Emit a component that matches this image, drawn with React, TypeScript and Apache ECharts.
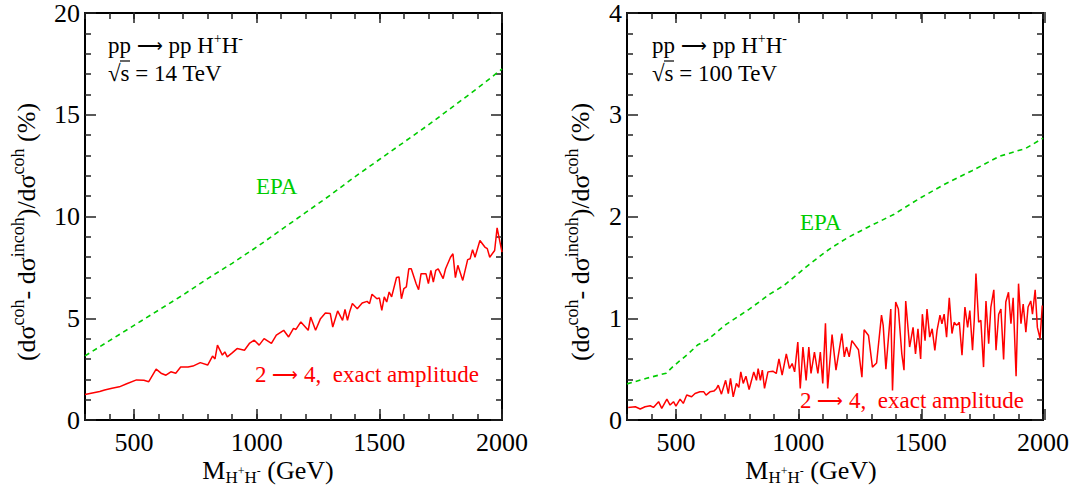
import React, { useEffect, useRef } from "react";
import * as echarts from "echarts";

const FONT = "Liberation Serif";
const GREEN = "#00cc00";
const RED = "#ff0000";

// ---------- data ----------
const xMajorTicks = [500, 1000, 1500, 2000];

// sqrt(s) = 14 TeV panel
const epa14X = [300, 400, 500, 600, 700, 800, 900, 1000, 1100, 1200, 1300, 1400, 1500, 1600, 1700, 1800, 1900, 2000];
const epa14Y = [3.15, 3.9, 4.65, 5.4, 6.15, 6.95, 7.7, 8.5, 9.35, 10.2, 11.05, 11.95, 12.8, 13.65, 14.5, 15.4, 16.3, 17.25];

const exact14X = [300, 330, 360, 380, 410, 440, 470, 510, 540, 560, 590, 610, 630, 650, 670, 690, 720, 740, 770, 800, 820, 830, 840, 860, 870, 880, 900, 920, 950, 970, 990, 1010, 1030, 1060, 1080, 1110, 1130, 1150, 1160, 1180, 1210, 1220, 1240, 1260, 1280, 1300, 1310, 1330, 1350, 1360, 1370, 1380, 1390, 1410, 1430, 1450, 1460, 1470, 1490, 1500, 1510, 1520, 1530, 1540, 1550, 1570, 1580, 1590, 1600, 1610, 1620, 1630, 1650, 1660, 1670, 1690, 1700, 1710, 1720, 1730, 1740, 1760, 1770, 1790, 1800, 1810, 1820, 1840, 1860, 1870, 1880, 1890, 1910, 1930, 1940, 1950, 1970, 1980, 2000];
const exact14Y = [1.25, 1.33, 1.4, 1.47, 1.56, 1.63, 1.78, 1.97, 1.95, 1.88, 2.5, 2.3, 2.2, 2.37, 2.3, 2.6, 2.6, 2.65, 2.82, 2.7, 3.14, 3.0, 3.68, 3.19, 3.35, 3.1, 3.3, 3.51, 3.43, 3.76, 3.92, 3.68, 4.0, 3.76, 4.17, 4.41, 4.08, 4.5, 4.45, 4.82, 4.41, 5.06, 4.41, 4.98, 5.26, 5.23, 4.57, 5.36, 4.9, 5.43, 4.9, 5.36, 5.72, 5.47, 5.75, 5.83, 5.72, 6.18, 5.96, 6.0, 5.39, 6.05, 5.8, 6.29, 6.05, 7.0, 7.03, 5.96, 6.46, 6.54, 7.43, 7.43, 6.7, 6.4, 7.19, 7.19, 6.7, 7.35, 6.78, 7.35, 7.43, 6.95, 7.43, 8.0, 8.17, 7.0, 7.6, 6.86, 7.88, 7.92, 8.37, 8.0, 8.82, 8.5, 8.42, 8.0, 8.33, 9.44, 8.25];

// sqrt(s) = 100 TeV panel
const epa100X = [300, 380, 460, 490, 515, 550, 590, 625, 660, 705, 750, 800, 840, 885, 940, 1030, 1110, 1140, 1200, 1280, 1390, 1490, 1600, 1710, 1820, 1930, 2000];
const epa100Y = [0.355, 0.41, 0.46, 0.53, 0.58, 0.65, 0.74, 0.78, 0.85, 0.94, 1.01, 1.09, 1.16, 1.24, 1.32, 1.5, 1.65, 1.7, 1.79, 1.89, 2.02, 2.17, 2.32, 2.45, 2.59, 2.67, 2.77];

const exact100X = [305, 334, 354, 374, 395, 408, 429, 442, 463, 476, 490, 500, 517, 530, 544, 564, 578, 598, 614, 623, 639, 655, 666, 673, 686, 703, 714, 723, 734, 747, 757, 765, 775, 786, 799, 809, 818, 829, 836, 845, 853, 862, 876, 896, 910, 921, 934, 951, 964, 975, 985, 998, 1008, 1019, 1032, 1043, 1052, 1066, 1080, 1090, 1100, 1111, 1120, 1138, 1154, 1178, 1188, 1197, 1208, 1219, 1246, 1260, 1269, 1287, 1303, 1320, 1340, 1347, 1358, 1378, 1385, 1398, 1409, 1423, 1432, 1439, 1455, 1469, 1479, 1489, 1500, 1507, 1518, 1526, 1537, 1547, 1558, 1567, 1579, 1587, 1596, 1606, 1617, 1628, 1637, 1647, 1658, 1669, 1681, 1692, 1701, 1712, 1719, 1726, 1737, 1746, 1757, 1767, 1778, 1787, 1799, 1808, 1819, 1828, 1839, 1848, 1859, 1869, 1878, 1890, 1900, 1910, 1919, 1930, 1939, 1950, 1957, 1968, 1977, 1988, 1997];
const exact100Y = [0.124, 0.13, 0.108, 0.13, 0.14, 0.124, 0.18, 0.114, 0.205, 0.147, 0.18, 0.137, 0.205, 0.163, 0.245, 0.228, 0.26, 0.277, 0.277, 0.245, 0.277, 0.284, 0.31, 0.342, 0.254, 0.39, 0.26, 0.41, 0.228, 0.36, 0.32, 0.473, 0.36, 0.43, 0.3, 0.39, 0.473, 0.39, 0.506, 0.39, 0.49, 0.31, 0.473, 0.48, 0.457, 0.6, 0.44, 0.65, 0.506, 0.555, 0.473, 0.766, 0.31, 0.717, 0.39, 0.717, 0.457, 0.668, 0.457, 0.668, 0.36, 0.95, 0.31, 0.84, 0.49, 0.85, 0.62, 0.717, 0.62, 0.78, 0.69, 0.42, 0.887, 0.83, 0.52, 0.56, 1.03, 0.93, 0.5, 1.09, 0.29, 1.16, 1.09, 0.65, 0.49, 1.17, 0.717, 0.91, 0.65, 0.897, 0.6, 1.04, 0.78, 1.09, 0.815, 0.897, 0.685, 0.88, 1.03, 0.946, 1.04, 0.815, 1.2, 0.85, 0.96, 0.93, 0.96, 0.636, 1.11, 0.91, 1.076, 0.685, 0.98, 1.44, 0.96, 0.98, 0.52, 1.17, 0.75, 1.11, 1.28, 0.685, 1.04, 1.09, 0.594, 1.16, 1.255, 0.946, 1.2, 0.43, 1.34, 0.946, 1.14, 0.864, 1.11, 1.17, 1.04, 1.28, 0.91, 0.8, 1.125];

const zip = (xs: number[], ys: number[]) => xs.map((x, i) => [x, ys[i]]);

// ---------- layout ----------
const GRID_L = { left: 85, top: 12, width: 417, height: 408 };
const GRID_R = { left: 627, top: 12, width: 418, height: 408 };

const tickStyle = { color: "#222", width: 1.5 };
const frameLine = { show: true, onZero: false, lineStyle: { color: "#000", width: 2 } };
const labelStyle = { fontFamily: FONT, fontSize: 26, color: "#000", formatter: (v: number) => String(v) };

function xAxisPair(gridIndex: number) {
  const base = {
    type: "value" as const,
    gridIndex,
    min: 300,
    max: 2000,
    interval: 100,
    axisLine: frameLine,
    axisTick: { show: true, inside: true, length: 6, lineStyle: tickStyle },
    splitLine: { show: false },
  };
  return [
    { ...base, position: "bottom", axisLabel: { ...labelStyle, margin: 9, customValues: xMajorTicks } },
    { ...base, position: "top", axisLabel: { show: false } },
  ];
}
function xMajorPair(gridIndex: number) {
  const base = {
    type: "value" as const,
    gridIndex,
    min: 300,
    max: 2000,
    axisLine: { show: false },
    axisTick: { show: true, inside: true, length: 11, customValues: xMajorTicks, lineStyle: tickStyle },
    axisLabel: { show: false },
    splitLine: { show: false },
  };
  return [
    { ...base, position: "bottom" },
    { ...base, position: "top" },
  ];
}
function yAxisPair(gridIndex: number, max: number, interval: number) {
  const base = {
    type: "value" as const,
    gridIndex,
    min: 0,
    max,
    interval,
    axisLine: frameLine,
    axisTick: { show: true, inside: true, length: 11, lineStyle: tickStyle },
    minorTick: { show: true, splitNumber: 5, length: 6, lineStyle: tickStyle },
    splitLine: { show: false },
  };
  return [
    { ...base, position: "left", axisLabel: { ...labelStyle, margin: 5 } },
    { ...base, position: "right", axisLabel: { show: false } },
  ];
}

const richBase = (color: string) => ({
  t: { fontFamily: FONT, fontSize: 23, fill: color, verticalAlign: "middle" },
  a: { fontFamily: FONT, fontSize: 18, fill: color, verticalAlign: "middle", padding: [2, 0, 0, 0] },
  sup: { fontFamily: FONT, fontSize: 14, fill: color, verticalAlign: "middle", padding: [0, 0, 14, 0] },
});

const yTitleRich = {
  n: { fontFamily: FONT, fontSize: 26, fill: "#000", verticalAlign: "middle" },
  sp: { fontFamily: FONT, fontSize: 18, fill: "#000", verticalAlign: "middle", padding: [0, 0, 16, 0] },
};
const yTitleText = "{n|(dσ}{sp|coh}{n|- dσ}{sp|incoh}{n|)/dσ}{sp|coh}{n| (%)}";

const xTitleRich = {
  m: { fontFamily: FONT, fontSize: 26, fill: "#000", verticalAlign: "middle" },
  sb: { fontFamily: FONT, fontSize: 17, fill: "#000", verticalAlign: "middle", padding: [14, 0, 0, 0] },
  sbs: { fontFamily: FONT, fontSize: 12, fill: "#000", verticalAlign: "middle", padding: [2, 0, 0, 0] },
};
const xTitleText = "{m|M}{sb|H}{sbs|+}{sb|H}{sbs|-}{m| (GeV)}";

function panelTexts(x0: number, energy: string, epaPos: number[], exactPos: number[]) {
  return [
    {
      type: "text",
      x: x0,
      y: 45,
      style: { text: "{t|pp }{a|⟶}{t| pp H}{sup|+}{t|H}{sup|-}", rich: richBase("#000"), fill: "#000", align: "left", verticalAlign: "middle" },
    },
    {
      type: "text",
      x: x0,
      y: 73,
      style: { text: `√s = ${energy} TeV`, fontFamily: FONT, fontSize: 23, fill: "#000", align: "left", verticalAlign: "middle" },
    },
    {
      type: "line",
      shape: { x1: x0 + 12, y1: 61, x2: x0 + 22, y2: 61 },
      style: { stroke: "#000", lineWidth: 1.2 },
    },
    {
      type: "text",
      x: epaPos[0],
      y: epaPos[1],
      style: { text: "EPA", fontFamily: FONT, fontSize: 23, fill: GREEN, align: "left", verticalAlign: "middle" },
    },
    {
      type: "text",
      x: exactPos[0],
      y: exactPos[1],
      style: { text: "{t|2 }{a|⟶}{t| 4,  exact amplitude}", rich: richBase(RED), fill: RED, align: "left", verticalAlign: "middle" },
    },
  ];
}

const option = {
  animation: false,
  backgroundColor: "#fff",
  textStyle: { fontFamily: FONT },
  grid: [
    { ...GRID_L, containLabel: false },
    { ...GRID_R, containLabel: false },
    { ...GRID_L, containLabel: false },
    { ...GRID_R, containLabel: false },
  ],
  xAxis: [...xAxisPair(0), ...xAxisPair(1), ...xMajorPair(2), ...xMajorPair(3)],
  yAxis: [
    ...yAxisPair(0, 20, 5),
    ...yAxisPair(1, 4, 1),
    { type: "value", gridIndex: 2, min: 0, max: 1, show: false },
    { type: "value", gridIndex: 3, min: 0, max: 1, show: false },
  ],
  series: [
    {
      type: "line",
      xAxisIndex: 0,
      yAxisIndex: 0,
      data: zip(epa14X, epa14Y),
      showSymbol: false,
      lineStyle: { color: GREEN, width: 1.6, type: [5, 4] },
    },
    {
      type: "line",
      xAxisIndex: 0,
      yAxisIndex: 0,
      data: zip(exact14X, exact14Y),
      showSymbol: false,
      lineStyle: { color: RED, width: 1.5 },
    },
    {
      type: "line",
      xAxisIndex: 2,
      yAxisIndex: 2,
      data: zip(epa100X, epa100Y),
      showSymbol: false,
      lineStyle: { color: GREEN, width: 1.6, type: [5, 4] },
    },
    {
      type: "line",
      xAxisIndex: 2,
      yAxisIndex: 2,
      data: zip(exact100X, exact100Y),
      showSymbol: false,
      lineStyle: { color: RED, width: 1.5 },
    },
  ],
  graphic: [
    ...panelTexts(108, "14", [256, 186], [255, 374]),
    ...panelTexts(652, "100", [800, 222], [800, 400]),
    {
      type: "text",
      x: 26,
      y: 232,
      rotation: Math.PI / 2,
      style: { text: yTitleText, rich: yTitleRich, align: "center", verticalAlign: "middle" },
    },
    {
      type: "text",
      x: 580,
      y: 232,
      rotation: Math.PI / 2,
      style: { text: yTitleText, rich: yTitleRich, align: "center", verticalAlign: "middle" },
    },
    {
      type: "text",
      x: 268,
      y: 470,
      style: { text: xTitleText, rich: xTitleRich, align: "center", verticalAlign: "middle" },
    },
    {
      type: "text",
      x: 811,
      y: 470,
      style: { text: xTitleText, rich: xTitleRich, align: "center", verticalAlign: "middle" },
    },
  ],
};

export default function App() {
  const ref = useRef<HTMLDivElement>(null);
  useEffect(() => {
    if (!ref.current) return;
    const chart = echarts.init(ref.current, null, { renderer: "svg" });
    chart.setOption(option as any);
    return () => chart.dispose();
  }, []);
  return (
    <div
      ref={ref}
      style={{ position: "absolute", left: 0, top: 0, width: 1072, height: 493, background: "#fff" }}
    />
  );
}
